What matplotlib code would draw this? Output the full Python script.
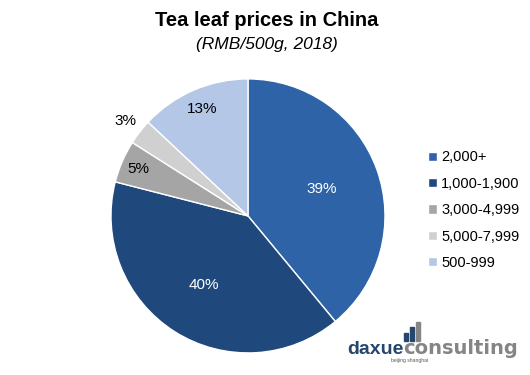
import numpy as np
import matplotlib
matplotlib.use('Agg')
from matplotlib import pyplot as plt

plt.rcParams['font.family'] = ['Liberation Sans', 'DejaVu Sans']

labels = ['2,000+', '1,000-1,900', '3,000-4,999', '5,000-7,999', '500-999']
shares = [39, 40, 5, 3, 13]
colors = ['#2E63A8', '#1F497D', '#A5A5A5', '#D0D0D0', '#B4C7E7']
text_colors = ['white', 'white', 'black', 'black', 'black']
label_r = [0.57, 0.6, 0.87, 1.13, 0.85]

fig = plt.figure(figsize=(5.3, 3.75), dpi=100)
ax = fig.add_axes([0.2094, 0.0587, 0.517, 0.731])

wedges, _ = ax.pie(shares, colors=colors, startangle=90, counterclock=False,
                   wedgeprops=dict(edgecolor='white', linewidth=1))
ax.set_aspect('equal')
ax.set_xlim(-1.0, 1.0)
ax.set_ylim(-1.0, 1.0)
ax.axis('off')

for w, s, tc, r in zip(wedges, shares, text_colors, label_r):
    ang = np.deg2rad((w.theta1 + w.theta2) / 2)
    ax.text(r * np.cos(ang), r * np.sin(ang), '%d%%' % s, ha='center', va='center',
            fontsize=11, color=tc, clip_on=False)

fig.text(0.504, 1 - 20 / 375, 'Tea leaf prices in China', ha='center', va='center',
         fontsize=14.5, fontweight='bold')
fig.text(0.504, 1 - 45 / 375, '(RMB/500g, 2018)', ha='center', va='center',
         fontsize=12.5, style='italic')

leg = fig.legend(wedges, labels, loc='upper left', bbox_to_anchor=(0.783, 0.634),
                 frameon=False, fontsize=10.5, handlelength=0.6, handleheight=0.6,
                 handletextpad=0.3, labelspacing=0.85)

# logo
navy = '#27466E'
grey = '#858585'
base_y = 1 - 354 / 375
fig.text(347 / 530, base_y, 'daxue', ha='left', va='baseline', fontsize=14,
         fontweight='bold', color=navy)
fig.text(403 / 530, base_y, 'consulting', ha='left', va='baseline', fontsize=14,
         family='DejaVu Sans', fontweight='bold', color=grey)
fig.text(391 / 530, 1 - 362 / 375, 'beijing shanghai', ha='left', va='baseline',
         fontsize=3.6, color='#555555')
for x0, top, c in zip([404, 410, 416], [333, 327, 322], [navy, navy, grey]):
    fig.add_artist(plt.Rectangle((x0 / 530, 1 - 341 / 375), 4 / 530, (341 - top) / 375,
                                 transform=fig.transFigure, color=c))

fig.savefig('out.png', dpi=100)
